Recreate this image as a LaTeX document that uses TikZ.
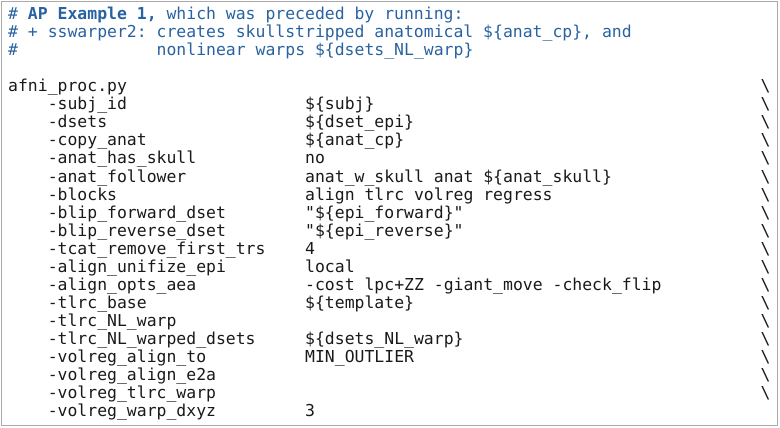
\documentclass[tikz,border=0pt]{standalone}
\usepackage{fontspec}
\setmonofont{DejaVu Sans Mono}
\usetikzlibrary{positioning}
\definecolor{cmtblue}{RGB}{40,98,160}
\definecolor{framegray}{RGB}{170,170,170}
\definecolor{codeink}{RGB}{25,25,25}
\newcommand{\charw}{9.9}
\tikzstyle{code}=[anchor=base west,inner sep=0pt,text=codeink,font=\ttfamily\fontsize{16.44}{18}\selectfont\frenchspacing]
\tikzstyle{comment}=[code,text=cmtblue]
\tikzstyle{frame}=[draw=framegray,line width=1.5pt]

\begin{document}
\begin{tikzpicture}[x=1pt,y=-1pt]
    % Fix the page size and draw the frame round the listing
    \useasboundingbox (0,0) rectangle (780,428);
    \path[frame] (1.5,1.5) rectangle (777.5,425.5);

    % First the comment lines at the top
    \node[comment] (head1) at (8,20) {\# \textbf{AP Example 1,} which was preceded by running:};
    \node[comment] (head2) at (8,38) {\# + sswarper2: creates skullstripped anatomical \$\{anat\_cp\}, and};
    \node[comment] (head3) at (8,56) {\#};
    \node[comment] (head3b) at ({8+15*\charw},56) {nonlinear warps \$\{dsets\_NL\_warp\}};

    % The command itself
    \node[code] (cmd) at (8,92) {afni\_proc.py};

    % Then the options, one per row
    \foreach \row/\opt in {5/subj\_id, 6/dsets, 7/copy\_anat, 8/anat\_has\_skull,
        9/anat\_follower, 10/blocks, 11/blip\_forward\_dset, 12/blip\_reverse\_dset,
        13/tcat\_remove\_first\_trs, 14/align\_unifize\_epi, 15/align\_opts\_aea,
        16/tlrc\_base, 17/tlrc\_NL\_warp, 18/tlrc\_NL\_warped\_dsets,
        19/volreg\_align\_to, 20/volreg\_align\_e2a, 21/volreg\_tlrc\_warp,
        22/volreg\_warp\_dxyz}
        \node[code] (opt\row) at ({8+4*\charw},{20+\row*18}) {-\opt};

    % Values in the second column
    \foreach \row/\val in {5/\$\{subj\}, 6/\$\{dset\_epi\}, 7/\$\{anat\_cp\}, 8/no,
        9/anat\_w\_skull anat \$\{anat\_skull\}, 10/align tlrc volreg regress,
        11/"\$\{epi\_forward\}", 12/"\$\{epi\_reverse\}", 13/4, 14/local,
        15/-cost lpc+ZZ -giant\_move -check\_flip, 16/\$\{template\},
        18/\$\{dsets\_NL\_warp\}, 19/MIN\_OUTLIER, 22/3}
        \node[code] (val\row) at ({8+30*\charw},{20+\row*18}) {\val};

    % Line continuations on the right
    \foreach \row in {4,...,21}
        \node[code] (cont\row) at ({8+76*\charw},{20+\row*18}) {\textbackslash};
\end{tikzpicture}
\end{document}
